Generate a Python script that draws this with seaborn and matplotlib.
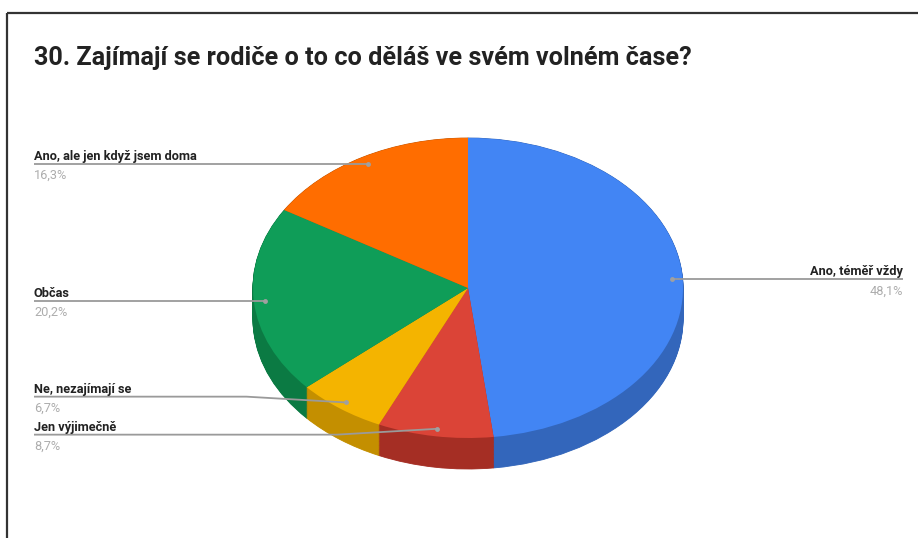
import numpy as np
import matplotlib
matplotlib.use("Agg")
import matplotlib.pyplot as plt
import seaborn as sns

# ---------------- data ----------------
title = "30. Zajímají se rodiče o to co děláš ve svém volném čase?"
categories = ["Ano, téměř vždy", "Jen výjimečně", "Ne, nezajímají se",
              "Občas", "Ano, ale jen když jsem doma"]
values = [48.1, 8.7, 6.7, 20.2, 16.3]
top_colors = ["#4285F4", "#DB4437", "#F4B400", "#0F9D58", "#FF6D00"]
side_colors = ["#3366BB", "#A52E24", "#C48F00", "#0B7A43", "#C25400"]

sns.set_theme(style="white")
plt.rcParams["font.family"] = ["Roboto", "DejaVu Sans"]

W, H = 918, 538
fig = plt.figure(figsize=(W / 100, H / 100), dpi=100)
fig.patch.set_facecolor("white")

# overlay axes in pixel coordinates (y down)
ov = fig.add_axes([0, 0, 1, 1], zorder=3)
ov.set_xlim(0, W)
ov.set_ylim(H, 0)
ov.axis("off")
ov.patch.set_alpha(0)

# frame (top and left border of the screenshot)
ov.plot([7, W], [13, 13], color="#333333", lw=1.6, solid_capstyle="butt")
ov.plot([7, 7], [13, H], color="#333333", lw=1.6, solid_capstyle="butt")

ov.text(34, 65, title, fontsize=18.2, fontweight="bold", color="#222222",
        ha="left", va="baseline")

# ---------------- 3D pie ----------------
cx, cy, rx, ry, depth = 468, 288, 215, 150, 31
pax = fig.add_axes([(cx - rx) / W, (H - (cy + ry + depth)) / H,
                    2 * rx / W, (2 * ry + depth) / H], zorder=1)
dd = depth / ry
n_layers = 40
for d in np.linspace(dd, 0.0, n_layers):
    pax.pie(values, colors=side_colors, startangle=90, counterclock=False,
            center=(0, -d), radius=1.0, normalize=True,
            wedgeprops=dict(linewidth=0.6, edgecolor=None, antialiased=True))
    for w in pax.patches[-len(values):]:
        w.set_edgecolor(w.get_facecolor())
wedges, _ = pax.pie(values, colors=top_colors, startangle=90, counterclock=False,
                    center=(0, 0), radius=1.0, normalize=True,
                    wedgeprops=dict(linewidth=0))
pax.set_aspect("auto")
pax.set_xlim(-1, 1)
pax.set_ylim(-1 - dd, 1)
pax.axis("off")

# ---------------- labels ----------------
fr = np.array(values) / np.sum(values)
cum = np.cumsum(fr) - fr / 2
angles = cum * 2 * np.pi  # clockwise from top
anchor_data = [(0.95 * np.sin(a), 0.95 * np.cos(a)) for a in angles]
fig.canvas.draw()
to_pix = pax.transData
anchors = []
for (x, y) in anchor_data:
    px, py = to_pix.transform((x, y))
    anchors.append((px, H - py))

# collision avoidance for label rows on each side
gap = 38
left = [i for i in range(len(values)) if anchors[i][0] < cx]
right = [i for i in range(len(values)) if anchors[i][0] >= cx]
label_y = {}
for side in (left, right):
    idx = sorted(side, key=lambda i: anchors[i][1])
    groups = [[i] for i in idx]
    changed = True
    while changed:
        changed = False
        pos = []
        for g in groups:
            m = np.mean([anchors[i][1] for i in g])
            start = m - gap * (len(g) - 1) / 2
            pos.append(start)
        for k in range(len(groups) - 1):
            end_k = pos[k] + gap * (len(groups[k]) - 1)
            if pos[k + 1] - end_k < gap:
                groups[k] = groups[k] + groups[k + 1]
                del groups[k + 1]
                changed = True
                break
    for g in groups:
        m = np.mean([anchors[i][1] for i in g])
        start = m - gap * (len(g) - 1) / 2
        for j, i in enumerate(g):
            label_y[i] = start + gap * j

line_col = "#9a9a9a"
fs = 9.2
for i, name in enumerate(categories):
    ax_, ay_ = anchors[i]
    ly = label_y[i]
    pct = f"{values[i]:.1f}%".replace(".", ",")
    if i in left:
        x0 = 34
        if abs(ly - ay_) > 1.5:
            xs = [x0, ax_ - 100, ax_]
            ys = [ly, ly, ay_]
        else:
            xs = [x0, ax_]
            ys = [ly, ly]
        ov.plot(xs, ys, color=line_col, lw=1.3, solid_capstyle="butt")
        ov.text(x0, ly - 4, name, fontsize=fs, fontweight="bold",
                color="#222222", ha="left", va="baseline")
        ov.text(x0, ly + 15, pct, fontsize=fs, color="#adadad",
                ha="left", va="baseline")
    else:
        x1 = 903
        ov.plot([ax_, x1], [ly, ly], color=line_col, lw=1.3, solid_capstyle="butt")
        ov.text(x1, ly - 4, name, fontsize=fs, fontweight="bold",
                color="#222222", ha="right", va="baseline")
        ov.text(x1, ly + 15, pct, fontsize=fs, color="#adadad",
                ha="right", va="baseline")
    ov.plot([ax_], [ay_], marker="o", ms=3.5, color="#a0a0a0", mec="none")

fig.savefig("out.png", dpi=100, facecolor="white")
